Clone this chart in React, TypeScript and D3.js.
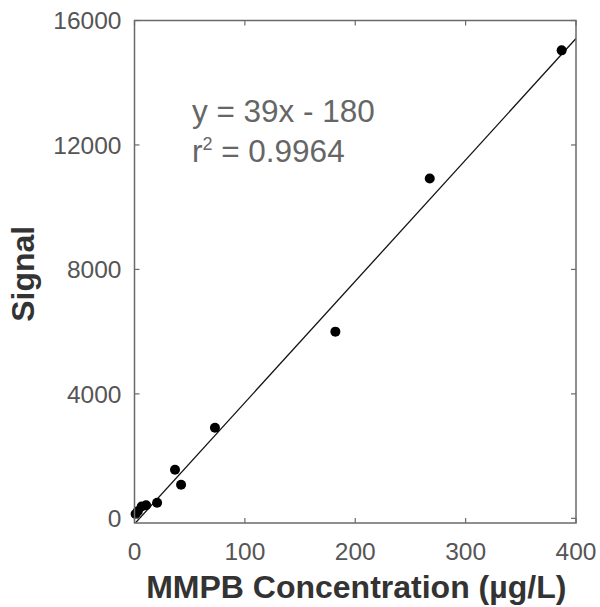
import { useMemo } from "react";
import * as d3 from "d3";

const WIDTH = 600;
const HEIGHT = 607;
const MARGIN = { top: 20.5, right: 24, bottom: 84, left: 134.5 };

// concentration (µg/L) and measured signal
const concentration = [1, 3, 6.5, 10.5, 20.5, 36.7, 42.2, 72.9, 182, 267.5, 387];
const signal = [140, 230, 380, 420, 500, 1560, 1080, 2910, 6000, 10920, 15040];

const xTicks = [0, 100, 200, 300, 400];
const yTicks = [0, 4000, 8000, 12000, 16000];

const slope = 39;
const intercept = -180;
const fitX = [0, 400];
const r2Label = "0.9964";

const AXIS_COLOR = "#6a6a6a";
const TICK_TEXT = "#555";
const FONT = "'Liberation Sans', Arial, Helvetica, sans-serif";

export default function App() {
  const innerW = WIDTH - MARGIN.left - MARGIN.right;
  const innerH = HEIGHT - MARGIN.top - MARGIN.bottom;

  const x = useMemo(() => d3.scaleLinear().domain([0, 400]).range([0, innerW]), [innerW]);
  const y = useMemo(() => d3.scaleLinear().domain([-150, 16000]).range([innerH, 0]), [innerH]);

  const fitPath = d3
    .line<number>()
    .x((d) => x(d))
    .y((d) => y(slope * d + intercept))(fitX);

  const points = concentration.map((c, i) => ({ c, s: signal[i] }));

  return (
    <svg
      width={WIDTH}
      height={HEIGHT}
      style={{ position: "absolute", left: 0, top: 0, background: "#fff" }}
    >
      <defs>
        <clipPath id="plot-clip">
          <rect x={0} y={0} width={innerW} height={innerH} />
        </clipPath>
      </defs>
      <g transform={`translate(${MARGIN.left}, ${MARGIN.top})`}>
        {/* fit line */}
        <path d={fitPath ?? ""} fill="none" stroke="#111" strokeWidth={1.3} clipPath="url(#plot-clip)" />

        {/* data points */}
        {points.map((p, i) => (
          <circle key={i} cx={x(p.c)} cy={y(p.s)} r={5} fill="#000" />
        ))}

        {/* box */}
        <rect x={0} y={0} width={innerW} height={innerH} fill="none" stroke={AXIS_COLOR} strokeWidth={1.5} />

        {/* x ticks (bottom + top, inward) */}
        {xTicks.map((t) => (
          <g key={"x" + t}>
            <line x1={x(t)} x2={x(t)} y1={innerH} y2={innerH - 5} stroke={AXIS_COLOR} strokeWidth={1.2} />
            <line x1={x(t)} x2={x(t)} y1={0} y2={5} stroke={AXIS_COLOR} strokeWidth={1.2} />
            <text
              x={x(t)}
              y={innerH + 37}
              textAnchor="middle"
              fontFamily={FONT}
              fontSize={24.5}
              fill={TICK_TEXT}
            >
              {t}
            </text>
          </g>
        ))}

        {/* y ticks (left + right, inward) */}
        {yTicks.map((t) => (
          <g key={"y" + t}>
            <line x1={0} x2={5} y1={y(t)} y2={y(t)} stroke={AXIS_COLOR} strokeWidth={1.2} />
            <line x1={innerW} x2={innerW - 5} y1={y(t)} y2={y(t)} stroke={AXIS_COLOR} strokeWidth={1.2} />
            <text
              x={-13}
              y={y(t)}
              dy="0.36em"
              textAnchor="end"
              fontFamily={FONT}
              fontSize={24.5}
              fill={TICK_TEXT}
            >
              {t}
            </text>
          </g>
        ))}

        {/* regression annotation */}
        <text x={x(52)} y={y(12750)} fontFamily={FONT} fontSize={31.5} fill="#666">
          {`y = ${slope}x - ${Math.abs(intercept)}`}
        </text>
        <text x={x(52)} y={y(11450)} fontFamily={FONT} fontSize={31.5} fill="#666">
          r<tspan fontSize={18} dy={-12}>2</tspan>
          <tspan dy={12}>{` = ${r2Label}`}</tspan>
        </text>

        {/* axis titles */}
        <text
          x={innerW / 2 + 1}
          y={innerH + 75}
          textAnchor="middle"
          fontFamily={FONT}
          fontWeight="bold"
          fontSize={32}
          fill="#333"
        >
          MMPB Concentration (µg/L)
        </text>
        <text
          transform={`translate(${-101}, ${innerH / 2 + 2}) rotate(-90)`}
          textAnchor="middle"
          fontFamily={FONT}
          fontWeight="bold"
          fontSize={32}
          fill="#333"
        >
          Signal
        </text>
      </g>
    </svg>
  );
}
